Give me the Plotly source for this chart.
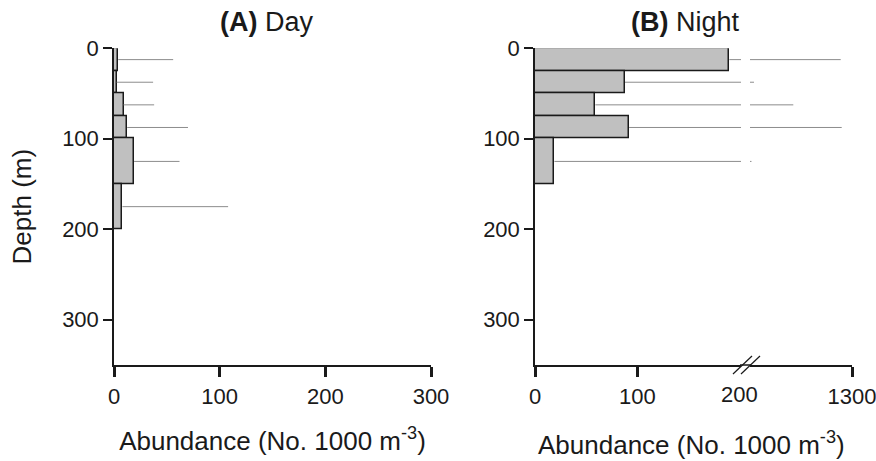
import plotly.graph_objects as go

# ---- Data: copepod abundance by depth stratum (No. 1000 m^-3) ----
day_top = [0, 25, 50, 75, 100, 150]
day_bottom = [25, 50, 75, 100, 150, 200]
day_mean = [4, 2.5, 9, 12.5, 19, 8]
day_sd = [52, 34.5, 29, 57.5, 43, 100]

night_top = [0, 25, 50, 75, 100]
night_bottom = [25, 50, 75, 100, 150]
night_mean = [190, 88, 59, 92, 19]
night_sd = [988, 155, 608, 1097, 197]

depth_ticks = [0, 100, 200, 300]
day_x_ticks = [0, 100, 200, 300]
night_low_ticks = [0, 100]
night_break_tick = [200]
night_high_ticks = [1300]

panel_titles = ["<b>(A)</b> Day", "<b>(B)</b> Night"]
x_title = "Abundance (No. 1000 m<sup>-3</sup>)"
y_title = "Depth (m)"

# ---- Page geometry (pixels -> paper fractions) ----
W, H = 876, 461


def px(x):
    return x / W


def py(y):
    return 1 - y / H


AXIS_Y = 365       # baseline of both x axes
TOP_Y = 48.3       # depth 0
FONT = "Liberation Sans, Arial, sans-serif"
INK = "#1a1a1a"
BAR_FILL = "#c0c0c0"
ERR_COL = "#8c8c8c"


def mids(tops, bottoms):
    return [(a + b) / 2 for a, b in zip(tops, bottoms)]


def widths(tops, bottoms):
    return [b - a for a, b in zip(tops, bottoms)]


def err_segments(means, sds, tops, bottoms):
    xs, ys = [], []
    for m, s, c in zip(means, sds, mids(tops, bottoms)):
        xs += [m, m + s, None]
        ys += [c, c, None]
    return xs, ys


fig = go.Figure()

bar_style = dict(color=BAR_FILL, line=dict(color=INK, width=1.5))
err_style = dict(color=ERR_COL, width=1)

# Panel A: day
fig.add_trace(go.Bar(orientation="h", x=day_mean, y=mids(day_top, day_bottom),
                     width=widths(day_top, day_bottom), base=0,
                     marker=bar_style, xaxis="x", yaxis="y", showlegend=False))
ex, ey = err_segments(day_mean, day_sd, day_top, day_bottom)
fig.add_trace(go.Scatter(x=ex, y=ey, mode="lines", line=err_style,
                         xaxis="x", yaxis="y", showlegend=False, hoverinfo="skip"))

# Panel B: night (broken x axis: low segment x2, high segment x3)
fig.add_trace(go.Bar(orientation="h", x=night_mean, y=mids(night_top, night_bottom),
                     width=widths(night_top, night_bottom), base=0,
                     marker=bar_style, xaxis="x2", yaxis="y2", showlegend=False))
nx, ny = err_segments(night_mean, night_sd, night_top, night_bottom)
for xa in ("x2", "x3"):
    fig.add_trace(go.Scatter(x=nx, y=ny, mode="lines", line=err_style,
                             xaxis=xa, yaxis="y2", showlegend=False, hoverinfo="skip"))

tickfont = dict(family=FONT, size=22, color=INK)
titlefont = dict(family=FONT, size=26, color=INK)
xcommon = dict(showline=True, linecolor=INK, linewidth=1.5, ticks="outside",
               ticklen=10, tickwidth=2.5, tickcolor=INK, showgrid=False,
               zeroline=False, tickfont=tickfont, tickmode="array",
               ticklabelstandoff=1, ticklabeloverflow="allow",
               fixedrange=True, automargin=False)
ycommon = dict(showline=True, linecolor=INK, linewidth=1.5, ticks="outside",
               ticklen=9, tickwidth=1.5, tickcolor=INK, showgrid=False,
               zeroline=False, tickfont=tickfont, tickmode="array",
               ticklabeloverflow="allow",
               tickvals=depth_ticks, range=[350, 0], fixedrange=True,
               automargin=False, domain=[py(AXIS_Y), py(TOP_Y)])

fig.update_layout(
    width=W, height=H,
    margin=dict(l=0, r=0, t=0, b=0, autoexpand=False),
    paper_bgcolor="white", plot_bgcolor="white",
    font=dict(family=FONT, color=INK),
    bargap=0,
    xaxis=dict(domain=[px(114), px(431)], range=[0, 300], anchor="y",
               tickvals=day_x_ticks,
               title=dict(text=x_title, font=titlefont, standoff=24),
               **xcommon),
    yaxis=dict(anchor="x",
               title=dict(text=y_title, font=titlefont, standoff=23),
               **ycommon),
    xaxis2=dict(domain=[px(535), px(741)], range=[0, 201.4], anchor="y2",
                tickvals=night_low_ticks, **xcommon),
    yaxis2=dict(anchor="x2", **ycommon),
    xaxis3=dict(domain=[px(750), px(852)], range=[200, 1300], anchor="y2",
                tickvals=night_high_ticks, **xcommon),
)

# Axis line across the break, plus the break marks
fig.add_shape(type="line", xref="paper", yref="paper",
              x0=px(740), x1=px(751), y0=py(AXIS_Y), y1=py(AXIS_Y),
              line=dict(color=INK, width=1.5))
for dx in (0, 8):
    fig.add_shape(type="line", xref="paper", yref="paper",
                  x0=px(733 + dx), x1=px(752 + dx), y0=py(374), y1=py(356),
                  line=dict(color=INK, width=1.2))

# Label at the break point of the night axis
fig.add_annotation(x=night_break_tick[0], xref="x2", y=py(394), yref="paper",
                   text=str(night_break_tick[0]), showarrow=False,
                   xanchor="center", yanchor="middle", font=tickfont)

# Night x-axis title centred under the whole broken axis
fig.add_annotation(x=px(691), xref="paper", y=py(443), yref="paper",
                   text=x_title, showarrow=False, xanchor="center", yanchor="middle",
                   font=titlefont)

# Panel titles
for txt, cx in zip(panel_titles, (267, 685)):
    fig.add_annotation(x=px(cx), xref="paper", y=py(22), yref="paper",
                       text=txt, showarrow=False, xanchor="center", yanchor="middle",
                       font=dict(family=FONT, size=27, color=INK))

fig.write_html("out.html")
